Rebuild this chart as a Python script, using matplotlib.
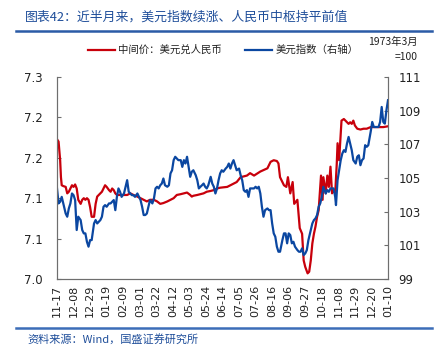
import pandas as pd
import matplotlib
matplotlib.use('Agg')
import matplotlib.pyplot as plt
import matplotlib.dates as mdates
from matplotlib.lines import Line2D

plt.rcParams['font.family'] = ['Noto Sans CJK SC', 'DejaVu Sans']

#    data (days counted from start date)
start = pd.Timestamp('2023-11-17')
n_days = 420

red_day = [0, 2, 4, 5, 6, 8, 11, 13, 15, 17, 19, 21, 23, 25, 27, 30, 32, 34, 36, 38,
           40, 42, 44, 47, 49, 51, 53, 55, 57, 59, 61, 63, 66, 68, 70, 72, 74, 76, 80, 85,
           89, 93, 97, 102, 106, 110, 114, 118, 123, 127, 131, 135, 140, 144, 148, 152, 157, 161, 165, 169,
           171, 173, 178, 182, 186, 190, 195, 199, 203, 207, 216, 224, 228, 233, 241, 245, 250, 258, 267, 271,
           275, 279, 281, 283, 288, 291, 293, 296, 299, 301, 305, 308, 311, 313, 315, 318, 320, 322, 324, 326,
           328, 330, 332, 335, 337, 338, 341, 343, 345, 347, 349, 351, 353, 355, 356, 358, 359, 361, 364, 368,
           370, 372, 374, 376, 378, 381, 385, 389, 393, 398, 402, 406, 410, 414, 420]
red_val = [7.173, 7.170, 7.147, 7.126, 7.116, 7.115, 7.114, 7.106, 7.108, 7.112, 7.116, 7.114, 7.117, 7.112, 7.098, 7.093, 7.098, 7.100, 7.098, 7.100,
           7.098, 7.089, 7.077, 7.077, 7.093, 7.102, 7.104, 7.106, 7.108, 7.112, 7.116, 7.114, 7.110, 7.108, 7.112, 7.110, 7.106, 7.104, 7.104, 7.104,
           7.104, 7.106, 7.104, 7.102, 7.100, 7.098, 7.096, 7.098, 7.098, 7.096, 7.093, 7.094, 7.096, 7.098, 7.100, 7.104, 7.105, 7.106, 7.107, 7.104,
           7.102, 7.103, 7.104, 7.105, 7.106, 7.108, 7.109, 7.110, 7.112, 7.113, 7.114, 7.118, 7.120, 7.126, 7.128, 7.131, 7.128, 7.133, 7.137, 7.145,
           7.147, 7.146, 7.143, 7.126, 7.116, 7.114, 7.126, 7.106, 7.120, 7.093, 7.098, 7.063, 7.056, 7.023, 7.015, 7.007, 7.009, 7.023, 7.044, 7.056,
           7.065, 7.077, 7.085, 7.128, 7.098, 7.126, 7.106, 7.128, 7.114, 7.139, 7.106, 7.110, 7.106, 7.143, 7.168, 7.147, 7.163, 7.196, 7.198, 7.194,
           7.192, 7.194, 7.192, 7.196, 7.190, 7.186, 7.185, 7.186, 7.186, 7.188, 7.188, 7.188, 7.188, 7.188, 7.189]

blue_day = [0, 2, 4, 6, 8, 11, 13, 15, 17, 19, 21, 23, 25, 27, 30, 32, 34, 36, 38, 40,
            42, 44, 47, 49, 51, 53, 55, 57, 59, 61, 63, 66, 68, 70, 72, 74, 76, 78, 80, 82,
            85, 87, 89, 91, 93, 95, 97, 99, 102, 104, 106, 108, 110, 112, 114, 116, 118, 121, 123, 125,
            127, 129, 131, 133, 135, 137, 140, 142, 144, 146, 148, 150, 152, 154, 157, 159, 161, 163, 165, 167,
            169, 171, 173, 176, 178, 180, 182, 184, 186, 188, 190, 192, 195, 197, 199, 201, 203, 205, 207, 209,
            211, 214, 216, 218, 220, 222, 224, 226, 228, 231, 233, 235, 237, 239, 241, 243, 245, 250, 252, 254,
            256, 258, 260, 262, 264, 267, 269, 271, 273, 275, 277, 279, 281, 283, 286, 288, 290, 292, 294, 296,
            298, 300, 302, 305, 307, 309, 311, 313, 315, 317, 319, 322, 324, 326, 328, 330, 332, 334, 336, 338,
            341, 343, 345, 347, 351, 353, 354, 356, 358, 360, 362, 364, 366, 368, 370, 372, 374, 376, 379, 381,
            383, 385, 387, 389, 391, 393, 395, 398, 400, 402, 406, 408, 410, 412, 414, 416, 418, 420]
blue_val = [104.38, 103.49, 103.59, 103.88, 103.49, 102.89, 102.70, 103.19, 103.49, 104.08, 103.98, 103.69, 101.91, 102.70, 102.50, 101.91, 101.71, 101.71, 101.21, 100.92,
            101.31, 101.31, 102.30, 102.50, 102.30, 102.40, 102.50, 102.70, 103.29, 103.39, 103.29, 103.49, 103.49, 103.59, 103.69, 103.09, 103.88, 104.38, 104.18, 103.88,
            104.08, 104.48, 104.87, 104.18, 104.08, 103.98, 103.98, 103.88, 104.08, 103.88, 103.69, 103.29, 102.80, 102.80, 102.89, 103.29, 103.69, 103.49, 103.78, 104.38,
            104.48, 104.38, 104.57, 104.67, 104.97, 104.57, 104.48, 104.57, 105.27, 105.46, 106.06, 106.26, 106.16, 106.06, 106.06, 105.66, 106.06, 105.86, 106.26, 105.66,
            105.07, 105.37, 105.46, 105.17, 104.87, 104.38, 104.48, 104.57, 104.67, 104.48, 104.38, 104.57, 105.07, 104.67, 104.48, 104.08, 104.38, 104.87, 105.27, 105.46,
            105.37, 105.56, 105.66, 105.86, 105.56, 105.86, 106.06, 105.76, 105.46, 105.56, 105.17, 104.87, 104.28, 104.18, 104.28, 103.88, 104.38, 104.38, 104.48, 104.38,
            104.48, 104.08, 103.29, 102.70, 103.09, 103.19, 103.09, 103.09, 102.30, 101.71, 101.51, 100.92, 100.62, 100.62, 101.31, 101.71, 101.71, 101.12, 101.71, 101.61,
            101.12, 101.21, 100.92, 100.72, 100.62, 100.62, 100.82, 100.42, 100.52, 100.72, 101.31, 101.91, 102.30, 102.50, 102.60, 102.80, 103.29, 103.49, 103.88, 104.48,
            104.08, 104.28, 104.18, 104.38, 104.38, 103.88, 103.39, 104.87, 105.46, 106.06, 106.45, 106.65, 106.55, 107.05, 107.44, 107.05, 106.65, 106.06, 105.86, 106.26,
            106.35, 105.76, 106.06, 106.16, 106.95, 106.85, 106.95, 107.74, 108.33, 108.03, 108.03, 108.03, 108.33, 109.22, 108.33, 108.23, 109.02, 109.62]

left_ticks = [7.00, 7.05, 7.10, 7.15, 7.20, 7.25]
left_labels = ['7.0', '7.1', '7.1', '7.2', '7.2', '7.3']
right_ticks = [99, 101, 103, 105, 107, 109, 111]
tick_step = 21

title = '图表42：近半月来，美元指数续涨、人民币中枢持平前值'
source = '资料来源：Wind，国盛证券研究所'
red_name = '中间价：美元兑人民币'
blue_name = '美元指数（右轴）'

RED = '#C8000B'
BLUE = '#0B47A1'
TEXTBLUE = '#1F4E9A'
GREY = '#6E6E6E'


def main():
    red_x = start + pd.to_timedelta(red_day, unit='D')
    blue_x = start + pd.to_timedelta(blue_day, unit='D')

    fig = plt.figure(figsize=(4.38, 3.56), dpi=100)
    ax = fig.add_axes([57 / 438, 1 - 279 / 356, 331 / 438, 202 / 356])
    ax2 = ax.twinx()

    ax.plot(red_x, red_val, color=RED, lw=1.6)
    ax2.plot(blue_x, blue_val, color=BLUE, lw=1.6)

    ax.set_xlim(start, start + pd.Timedelta(days=n_days))
    ax.set_ylim(left_ticks[0], left_ticks[-1])
    ax2.set_ylim(right_ticks[0], right_ticks[-1])

    xt = [start + pd.Timedelta(days=d) for d in range(0, n_days + 1, tick_step)]
    ax.set_xticks(xt)
    ax.xaxis.set_major_formatter(mdates.DateFormatter('%m-%d'))
    ax.set_yticks(left_ticks)
    ax.set_yticklabels(left_labels)
    ax2.set_yticks(right_ticks)

    for a, pad in ((ax, 10.5), (ax2, 7.5)):
        a.spines['top'].set_visible(False)
        for s in ('left', 'right', 'bottom'):
            a.spines[s].set_color(GREY)
            a.spines[s].set_linewidth(0.8)
        a.tick_params(axis='y', direction='in', length=3, color=GREY, pad=pad, labelsize=8.5)
        for lab in a.get_yticklabels():
            lab.set_fontfamily('DejaVu Sans')
            lab.set_color('#222222')
    ax.tick_params(axis='x', length=0, pad=4, labelsize=8, labelrotation=90)
    for lab in ax.get_xticklabels():
        lab.set_fontfamily('DejaVu Sans')
        lab.set_color('#222222')

    #    header, footer and legend
    fig.text(25 / 438, 1 - 17 / 356, title, color=TEXTBLUE, fontsize=9.3, va='center', style='italic')
    fig.add_artist(Line2D([16 / 438, 432 / 438], [1 - 31 / 356] * 2, color='#2B5BA6', lw=1.8))
    fig.add_artist(Line2D([16 / 438, 432 / 438], [1 - 328 / 356] * 2, color='#3C6DB8', lw=1.8))
    fig.text(27 / 438, 1 - 339 / 356, source, color=TEXTBLUE, fontsize=8, va='center', style='italic')

    ly = 1 - 50 / 356
    fig.add_artist(Line2D([88 / 438, 115 / 438], [ly, ly], color=RED, lw=1.6))
    fig.text(118 / 438, ly, red_name, fontsize=7.5, va='center', color='#222222')
    fig.add_artist(Line2D([245 / 438, 272 / 438], [ly, ly], color=BLUE, lw=1.6))
    fig.text(276 / 438, ly, blue_name, fontsize=7.5, va='center', color='#222222')
    fig.text(418 / 438, 1 - 42 / 356, '1973年3月', fontsize=7.5, ha='right', va='center', color='#222222')
    fig.text(418 / 438, 1 - 57 / 356, '=100', fontsize=7.5, ha='right', va='center', color='#222222')

    fig.savefig('out.png', dpi=100)


if __name__ == '__main__':
    main()
